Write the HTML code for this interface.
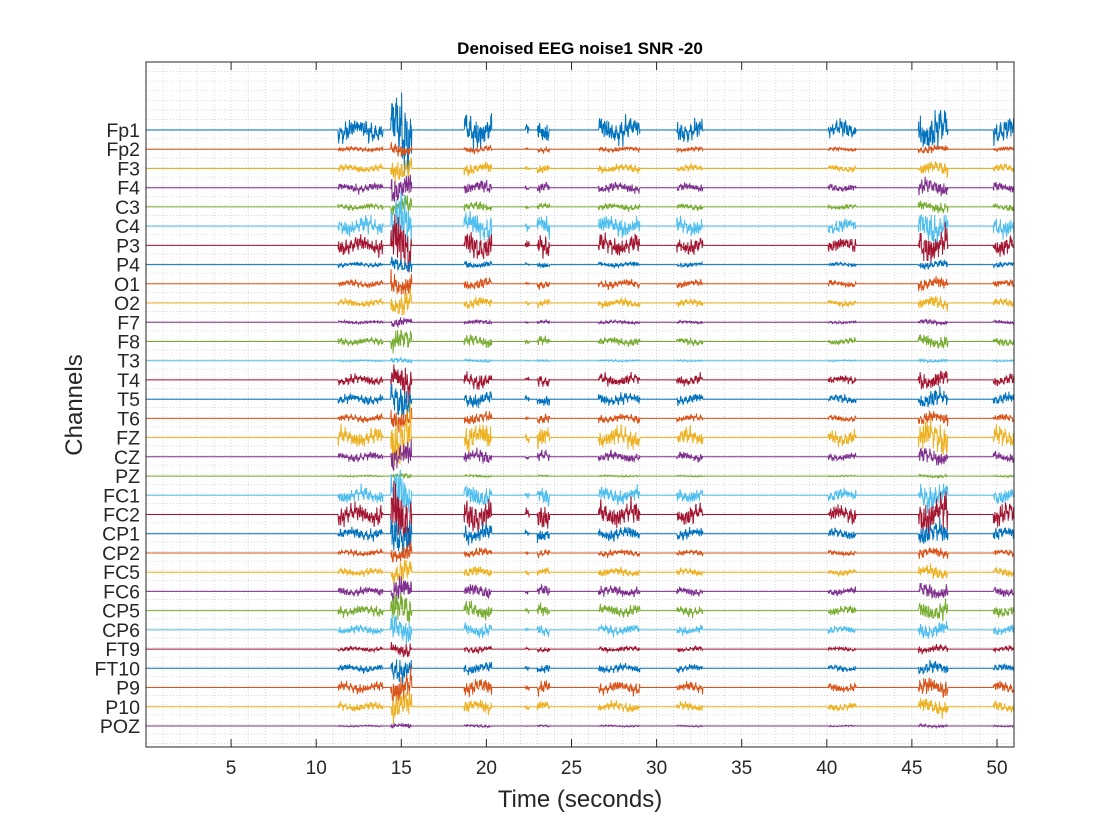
<!DOCTYPE html>
<html><head><meta charset="utf-8"><style>
html,body{margin:0;padding:0;background:#fff;}
svg{display:block;font-family:"Liberation Sans",sans-serif;}
</style></head><body>
<svg id="chart" width="1120" height="840">
<rect width="1120" height="840" fill="#fff"/>
<rect x="146" y="62" width="868" height="685" fill="#fff" stroke="none"/>
<g id="grid"></g>
<g id="traces"></g>
<rect x="146" y="62" width="868" height="685" fill="none" stroke="#262626" stroke-width="1"/>
<g id="axes"></g>
<text x="580" y="54" text-anchor="middle" font-size="17" font-weight="bold" fill="#000">Denoised EEG noise1 SNR -20</text>
<text x="580" y="807" text-anchor="middle" font-size="24" fill="#262626">Time (seconds)</text>
<text transform="translate(82,405) rotate(-90)" text-anchor="middle" font-size="24" fill="#262626">Channels</text>
</svg>
<script>
const channels=["Fp1","Fp2","F3","F4","C3","C4","P3","P4","O1","O2","F7","F8","T3","T4","T5","T6","FZ","CZ","PZ","FC1","FC2","CP1","CP2","FC5","FC6","CP5","CP6","FT9","FT10","P9","P10","POZ"];
const channelAmp=[15,3,5,6,4,12,12,3,5,5,2,5,1,7,7,5,12,6,1,10,14,8,4,5,6,7,6,3,5,7,6,1];
const burstStart=[11.3,14.4,18.7,22.3,23.0,26.6,31.2,40.1,45.4,49.8];
const burstEnd=[13.9,15.6,20.3,22.5,23.7,29.0,32.7,41.7,47.1,51.0];
const burstGain=[0.7,2.3,1.1,0.4,0.9,0.8,0.7,0.6,1.3,0.8];
const xTicks=[5,10,15,20,25,30,35,40,45,50];
const colors=["#0072BD","#D95319","#EDB120","#7E2F8E","#77AC30","#4DBEEE","#A2142F"];
const NS="http://www.w3.org/2000/svg";
const X0=146,X1=1014,Y0=62,Y1=747,TMAX=51.0;
const xs=t=>X0+(t/TMAX)*(X1-X0);
const ys=i=>130+i*(726-130)/(channels.length-1);
function mk(tag,attrs,parent){const e=document.createElementNS(NS,tag);for(const k in attrs)e.setAttribute(k,attrs[k]);parent.appendChild(e);return e;}
const grid=document.getElementById('grid'),tr=document.getElementById('traces'),ax=document.getElementById('axes');
for(let t=1;t<TMAX;t++){const l=mk('line',{x1:xs(t),x2:xs(t),y1:Y0,y2:Y1,stroke:'#c8c8c8','stroke-width':0.7,'stroke-dasharray':'1,2'},grid);

}
for(let y=Y0+9.6;y<Y1;y+=9.6){const l=mk('line',{x1:X0,x2:X1,y1:y,y2:y,stroke:'#c8c8c8','stroke-width':0.7,'stroke-dasharray':'1,2'},grid);

}
function gain(t){for(let b=0;b<burstStart.length;b++){if(t>=burstStart[b]&&t<=burstEnd[b])return burstGain[b];}return 0;}
channels.forEach((ch,i)=>{
  let d='';const y0=ys(i);
  for(let k=0;k<=TMAX*50;k++){const t=k/50;const g=gain(t);let v=0;
    if(g>0){const s=i*1.37+1;
      v=Math.sin(t*23.1+s)*Math.sin(t*1.7+s)+0.7*Math.sin(t*57.3+s*2.1)+0.6*Math.sin(t*131.7+s*3.3)+0.8*Math.sin(t*3.1+s*0.7)+0.5*Math.sin(t*211.9+s*5.1)+0.4*Math.sin(t*377.3+s*7.7);
      v*=channelAmp[i]*g*0.45;}
    d+=(k?'L':'M')+xs(t).toFixed(1)+' '+(y0-v).toFixed(1);}
  const p=mk('path',{d:d,fill:'none',stroke:colors[i%7],'stroke-width':1},tr);
  
  
  const lb=mk('text',{x:140,y:y0+7,'text-anchor':'end','font-size':19.5,fill:'#262626'},ax);lb.textContent=ch;
  
  
});
xTicks.forEach(v=>{const x=xs(v);
  const tk=mk('line',{x1:x,x2:x,y1:Y1,y2:Y1-8,stroke:'#262626','stroke-width':1},ax);
  
  
  const tt=mk('line',{x1:x,x2:x,y1:Y0,y2:Y0+8,stroke:'#262626','stroke-width':1},ax);
  
  
  const lb=mk('text',{x:x,y:774,'text-anchor':'middle','font-size':19,fill:'#262626'},ax);lb.textContent=v;
  
  
});
</script>
</body></html>
